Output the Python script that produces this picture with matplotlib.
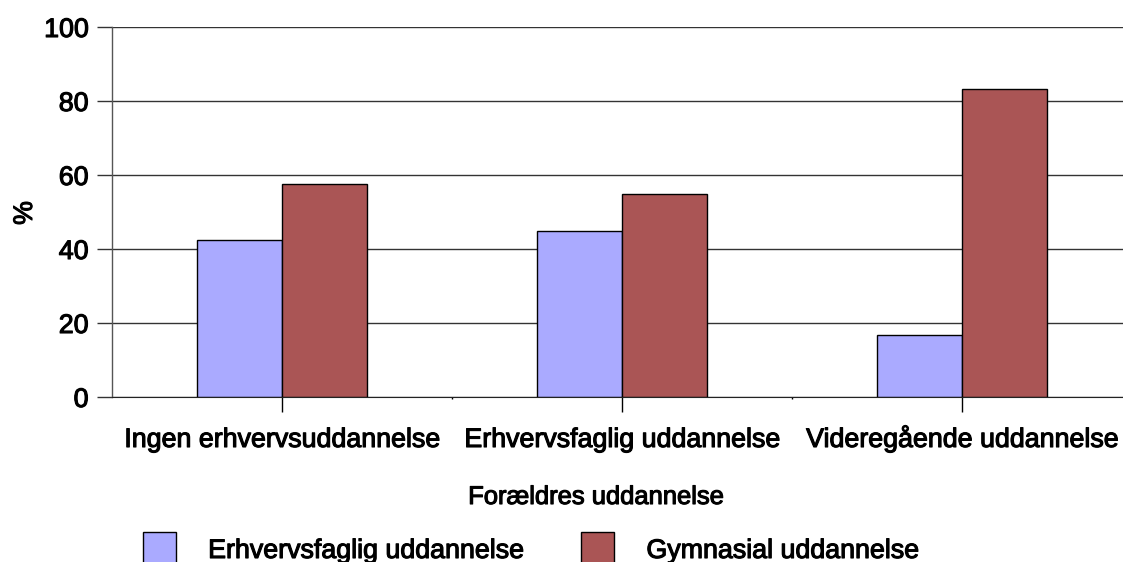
import numpy as np
import matplotlib.pyplot as plt
import matplotlib.patheffects as pe
from matplotlib.ticker import FixedLocator

plt.rcParams['font.family'] = ['Liberation Sans', 'DejaVu Sans']

# ----------------------------
# data
# ----------------------------
categories = ["Ingen erhvervsuddannelse", "Erhvervsfaglig uddannelse", "Videregående uddannelse"]
series_names = ["Erhvervsfaglig uddannelse", "Gymnasial uddannelse"]
erhvervsfaglig = [42.5, 45.0, 16.7]
gymnasial = [57.5, 55.0, 83.3]
yticks = [0, 20, 40, 60, 80, 100]

COLORS = ["#AAAAFF", "#AA5555"]
W, H = 1123, 562
FS = 19.3
BOLDISH = [pe.withStroke(linewidth=0.8, foreground="black")]

# ----------------------------
# plotting
# ----------------------------
fig = plt.figure(figsize=(W / 100, H / 100), dpi=100)
# axes runs past the right edge of the image, like the reference crop
ax = fig.add_axes([112 / W, (H - 397) / H, 1020 / W, 370 / H])

x = np.arange(len(categories))
bw = 0.25
ax.bar(x - bw / 2, erhvervsfaglig, bw, color=COLORS[0], edgecolor="black",
       linewidth=1, label=series_names[0], zorder=3)
ax.bar(x + bw / 2, gymnasial, bw, color=COLORS[1], edgecolor="black",
       linewidth=1, label=series_names[1], zorder=3)

ax.set_xlim(-0.5, len(categories) - 0.5)
ax.set_ylim(0, 100)
ax.set_yticks(yticks)
ax.set_xticks(x)
ax.set_xticklabels(categories, fontsize=FS)
ax.xaxis.set_minor_locator(FixedLocator(x[:-1] + 0.5))
ax.tick_params(axis="x", which="major", length=11, width=1, color="black", pad=25)
ax.tick_params(axis="x", which="minor", length=1.5, width=1, color="black")
ax.tick_params(axis="y", length=11, width=1, color="#333333", labelsize=FS, pad=6)
for lbl in ax.get_xticklabels():
    lbl.set_va("baseline")
    lbl.set_path_effects(BOLDISH)
for lbl in ax.get_yticklabels():
    lbl.set_path_effects(BOLDISH)

ax.grid(axis="y", color="#333333", linewidth=1, zorder=0)
for s in ["top", "right"]:
    ax.spines[s].set_visible(False)
ax.spines["bottom"].set_color("#222222")
ax.spines["bottom"].set_zorder(4)
ax.spines["left"].set_color("#555555")
ax.spines["left"].set_linewidth(1)

ax.set_ylabel("%", fontsize=FS, path_effects=BOLDISH)
ax.yaxis.label.set_va("center")
ax.yaxis.set_label_coords((25 - 112) / 1020, (397 - 213) / 370)
fig.text(596 / W, 1 - 497 / H, "Forældres uddannelse", fontsize=18.4,
         ha="center", va="center", path_effects=BOLDISH)

leg = fig.legend(loc="upper left", bbox_to_anchor=(143 / W, 1 - 532 / H), ncol=2,
                 frameon=False, fontsize=FS, handlelength=1.23, handleheight=1.6,
                 handletextpad=1.2, columnspacing=2.16, borderaxespad=0,
                 borderpad=0)
for t in leg.get_texts():
    t.set_path_effects(BOLDISH)

fig.savefig("out.png", dpi=100)
